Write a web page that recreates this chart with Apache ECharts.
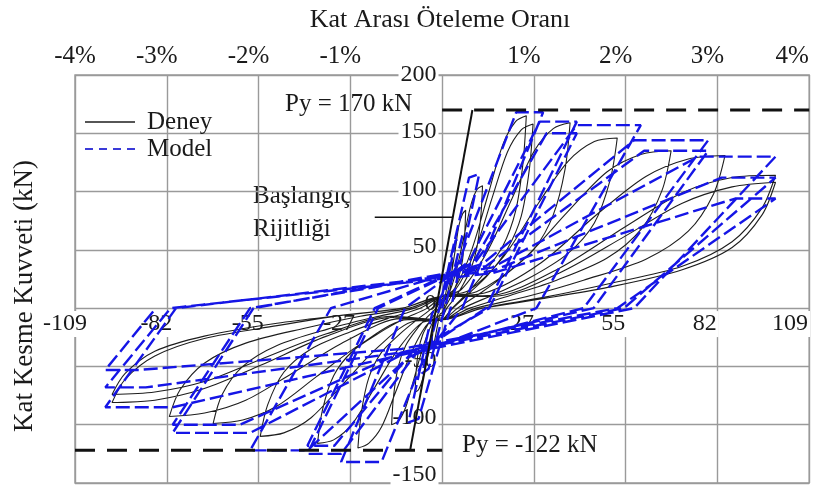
<!DOCTYPE html>
<html><head><meta charset="utf-8">
<script src="https://cdn.jsdelivr.net/npm/echarts@6/dist/echarts.min.js"></script>
<style>html,body{margin:0;padding:0;background:#fff}#c{width:832px;height:491px}</style>
</head><body><div id="c"></div>
<script>
// ---- tick labels ----
const xTickLabels = ['-109','-82','-55','-27','','27','55','82','109'];
const pctLabels = ['-4%','-3%','-2%','-1%','','1%','2%','3%','4%'];
// ---- Deney (experiment) cycles: [displacement mm, force kN] ----
const deneyC1 = [[0,0],[0.6,6],[1.3,16],[2.1,29],[2.6,37],[3,40],[2.9,30],[2.5,19],[1.8,10],[0.8,3],[0,-4],[-0.6,-5],[-1.3,-14],[-2.1,-26],[-2.6,-33],[-3,-35],[-2.9,-26],[-2.5,-16],[-1.8,-9],[-0.8,-2],[0,4]];
const deneyC2 = [[1.1,8],[2.5,25],[3.9,50],[5,71],[6.1,81],[7,84],[6.7,63],[6.1,42],[5,27],[3.5,15],[2.1,7],[0.8,0],[0,-6],[-1.2,-7],[-2.8,-22],[-4.4,-43],[-5.8,-61],[-7,-70],[-8,-72],[-7.7,-54],[-7,-36],[-5.8,-23],[-4,-13],[-2.4,-6],[-1,0],[0,6]];
const deneyC3 = [[1.8,11],[4.2,32],[6.6,63],[8.6,89],[10.4,102],[12,105],[11.5,79],[10.4,53],[8.6,34],[6,19],[3.6,8],[1.4,0],[0,-8],[-2.3,-10],[-5.3,-30],[-8.3,-60],[-10.8,-85],[-13,-97],[-15,-100],[-14.4,-75],[-13,-50],[-10.8,-32],[-7.5,-18],[-4.5,-8],[-1.8,0],[0,8]];
const deneyC4 = [[3.8,17],[8.8,50],[13.8,99],[18,140],[21.8,160],[25,165],[24,124],[21.8,83],[18,53],[12.5,30],[7.5,13],[3,0],[0,-10],[-3.8,-12],[-8.8,-36],[-13.8,-72],[-18,-102],[-21.8,-116],[-25,-120],[-24,-90],[-21.8,-60],[-18,-38],[-12.5,-22],[-7.5,-10],[-3,0],[0,10]];
const deneyC5 = [[4,16],[9.5,47],[14.9,95],[19.4,134],[23.5,153],[27,158],[25.9,119],[23.5,79],[19.4,51],[13.5,28],[8.1,13],[3.2,0],[0,-10],[-5.6,-12],[-13,-35],[-20.4,-70],[-26.6,-99],[-32.2,-113],[-37,-116],[-35.5,-87],[-32.2,-58],[-26.6,-37],[-18.5,-21],[-11.1,-9],[-4.4,0],[0,10]];
const deneyC6 = [[5.7,16],[13.3,48],[20.9,95],[27.4,135],[33,154],[38,159],[36.5,119],[33,80],[27.4,51],[19,29],[11.4,13],[4.6,0],[0,-10],[-8.1,-11],[-18.9,-33],[-29.7,-66],[-38.9,-94],[-47,-107],[-54,-110],[-51.8,-83],[-47,-55],[-38.9,-35],[-27,-20],[-16.2,-9],[-6.5,0],[0,10]];
const deneyC7 = [[7.8,15],[18.2,44],[28.6,90],[37.4,126],[45.2,143],[52,146],[49.9,110],[45.2,73],[37.4,47],[26,26],[15.6,12],[6.2,0],[0,-10],[-10.2,-10],[-23.8,-30],[-37.4,-59],[-49,-84],[-59.2,-96],[-68,-99],[-65.3,-74],[-59.2,-50],[-49,-32],[-34,-18],[-20.4,-8],[-8.2,0],[0,10]];
const deneyC8 = [[10.2,14],[23.8,41],[37.4,83],[49,117],[59.2,132],[68,135],[65.3,101],[59.2,68],[49,43],[34,24],[20.4,11],[8.2,0],[0,-10],[-12.2,-9],[-28.4,-28],[-44.6,-56],[-58.3,-79],[-70.5,-90],[-81,-93],[-77.8,-70],[-70.5,-47],[-58.3,-30],[-40.5,-17],[-24.3,-7],[-9.7,0],[0,10]];
const deneyC9 = [[12.6,13],[29.4,39],[46.2,81],[60.5,113],[73.1,128],[84,131],[80.6,98],[73.1,66],[60.5,42],[42,24],[25.2,10],[10.1,0],[0,-10],[-14.7,-8],[-34.3,-24],[-53.9,-49],[-70.6,-69],[-85.3,-79],[-98,-81],[-94.1,-61],[-85.3,-41],[-70.6,-26],[-49,-15],[-29.4,-6],[-11.8,0],[0,10]];
const deneyC10 = [[14.9,11],[34.7,34],[54.5,70],[71.3,99],[86.1,112],[99,114],[95,86],[86.1,57],[71.3,36],[49.5,21],[29.7,9],[11.9,0],[0,-10],[-14.7,-7],[-34.3,-22],[-53.9,-44],[-70.6,-63],[-85.3,-72],[-98,-74],[-94.1,-56],[-85.3,-37],[-70.6,-24],[-49,-13],[-29.4,-6],[-11.8,0],[0,10]];
const deneyC11 = [[14.9,10],[34.7,30],[54.5,62],[71.3,90],[86.1,104],[99,108],[95,80],[86.1,52],[71.3,33],[49.5,18],[29.7,8],[11.9,0]];
// ---- Model cycles (multi-linear) ----
const modelPath = [
 [0,0],[4,58],[6,62],[1,2],[-4,-52],[-6,-56],[-1,-2],
 [8,112],[11,115],[3,5],[-7,-95],[-10,-98],[-3,-5],
 [5,40],[22,168],[30,168],[6,0],[-5,-40],[-18,-132],[-30,-132],[-11,0],
 [8,40],[29,160],[40,160],[13,0],[-8,-40],[-30,-125],[-40,-125],[-19,0],
 [9,38],[31,150],[40,150],[14,0],[-9,-38],[-32,-118],[-40,-118],[-20,0],
 [10,40],[40,157],[59,157],[28,0],[-10,-42],[-40,-122],[-57,-122],[-33,0],
 [12,38],[57,144],[79,144],[42,0],[-12,-40],[-57,-107],[-80,-107],[-56,0],
 [13,36],[60,135],[79,135],[45,0],[-12,-38],[-60,-100],[-80,-100],[-57,0],
 [15,35],[76,130],[99,130],[57,0],[-12,-40],[-80,-85],[-100,-85],[-79,0],
 [15,32],[83,112],[99,112],[54,0],[-12,-38],[-88,-68],[-100,-68],[-80.6,0],
 [15,30],[87,94],[99,94],[52,0],[-12,-35],[-90,-53],[-100,-53],[-85,0]
];
// ---- reference lines ----
const pyPos = [[0,170],[109,170]];
const pyNeg = [[-109,-122],[0,-122]];
const stiffLine = [[-9.5,-122],[9,170]];
const pointerLine = [[-20,78],[3.2,78]];

const deneyData = [].concat(deneyC1,deneyC2,deneyC3,deneyC4,deneyC5,deneyC6,deneyC7,deneyC8,deneyC9,deneyC10,deneyC11);
const FF = '"Liberation Serif","DejaVu Serif",serif';
const GRID = '#9a9a9a';
const INK = '#1a1a1a';
const hidden = {show:false};

const chart = echarts.init(document.getElementById('c'), null, {renderer:'canvas'});
chart.setOption({
  animation:false,
  backgroundColor:'#fff',
  grid:[
    {left:75,right:4,top:75,bottom:8,show:true,borderColor:GRID,borderWidth:1.4,backgroundColor:'transparent'},
    {left:75,right:4,top:75,bottom:182.9,show:false},
    {left:451.5,right:4,top:75,bottom:8,show:false}
  ],
  graphic:[
    {type:'text',x:440,y:20,style:{text:'Kat Arası Öteleme Oranı',font:'26px '+FF,fill:INK,align:'center',verticalAlign:'middle'}},
    {type:'text',x:25,y:296,rotation:Math.PI/2,style:{text:'Kat Kesme Kuvveti (kN)',font:'27px '+FF,fill:INK,align:'center',verticalAlign:'middle'}},
    {type:'text',x:285,y:104,style:{text:'Py = 170 kN',font:'25px '+FF,fill:INK,align:'left',verticalAlign:'middle'}},
    {type:'text',x:462,y:445,style:{text:'Py = -122 kN',font:'25px '+FF,fill:INK,align:'left',verticalAlign:'middle'}},
    {type:'text',x:253,y:196,style:{text:'Başlangıç',font:'25px '+FF,fill:INK,align:'left',verticalAlign:'middle'}},
    {type:'text',x:253,y:229,style:{text:'Rijitliği',font:'25px '+FF,fill:INK,align:'left',verticalAlign:'middle'}},
    // legend
    {type:'line',shape:{x1:85,y1:122,x2:135,y2:122},style:{stroke:'#1e1e1e',lineWidth:1.6},z:10},
    {type:'text',x:147,y:122,style:{text:'Deney',font:'25px '+FF,fill:INK,align:'left',verticalAlign:'middle'},z:10},
    {type:'line',shape:{x1:85,y1:149,x2:135,y2:149},style:{stroke:'#3a3ad8',lineWidth:2,lineDash:[8,6]},z:10},
    {type:'text',x:147,y:149,style:{text:'Model',font:'25px '+FF,fill:INK,align:'left',verticalAlign:'middle'},z:10}
  ],
  xAxis:[
    {gridIndex:0,type:'value',min:-109,max:109,interval:27.25,
     axisLine:hidden,axisTick:hidden,axisLabel:hidden,
     splitLine:{show:true,lineStyle:{color:GRID,width:1.4}}},
    {gridIndex:0,type:'value',min:-4,max:4,interval:1,position:'top',
     axisLine:hidden,axisTick:hidden,splitLine:hidden,
     axisLabel:{show:true,margin:6,fontFamily:FF,fontSize:25,color:INK,showMinLabel:true,showMaxLabel:true,
       formatter:function(v,i){const t=pctLabels[i]; if(!t) return ''; if(i===0) return '{t|'+t+'}'; return '{t|'+t+'}'+(i===8?'{w|\u00a0}':'{s|\u00a0}');},
       rich:{t:{fontFamily:FF,fontSize:25,color:INK},s:{width:20,fontSize:25},w:{width:34,fontSize:25}}}},
    {gridIndex:1,type:'value',min:-109,max:109,interval:27.25,position:'bottom',z:1,
     axisLine:hidden,axisTick:hidden,splitLine:hidden,
     axisLabel:{show:true,margin:3,fontFamily:FF,fontSize:24,color:INK,showMinLabel:true,showMaxLabel:true,
       formatter:function(v,i){const t=xTickLabels[i]; if(!t) return ''; return '{t|'+t+'}'+(i===8?'{w|\u00a0}':'{s|\u00a0}');},
       rich:{t:{fontFamily:FF,fontSize:24,color:INK,backgroundColor:'#fff',padding:[1,2,1,2]},
             s:{width:20,fontSize:24},w:{width:32,fontSize:24}}}},
    {gridIndex:2,type:'value',min:0,max:1,show:false}
  ],
  yAxis:[
    {gridIndex:0,type:'value',min:-150,max:200,interval:50,
     axisLine:hidden,axisTick:hidden,axisLabel:hidden,
     splitLine:{show:true,lineStyle:{color:GRID,width:1.4}}},
    {gridIndex:1,type:'value',min:0,max:1,show:false},
    {gridIndex:2,type:'value',min:-150,max:200,interval:50,position:'left',z:1,
     axisLine:hidden,axisTick:hidden,splitLine:hidden,
     axisLabel:{show:true,margin:13,fontFamily:FF,fontSize:24,color:INK,backgroundColor:'#fff',padding:[0,2,8,2],showMinLabel:true,showMaxLabel:true}}
  ],
  series:[
    {name:'Deney',type:'line',xAxisIndex:0,yAxisIndex:0,data:deneyData,symbol:'none',smooth:0.3,z:3,
     lineStyle:{color:'#1e1e1e',width:1.1}},
    {name:'Model',type:'line',xAxisIndex:0,yAxisIndex:0,data:modelPath,symbol:'none',z:4,
     lineStyle:{color:'#1515e6',width:2.4,type:[14,5]}},
    {name:'PyPos',type:'line',xAxisIndex:0,yAxisIndex:0,data:pyPos,symbol:'none',z:5,lineStyle:{color:'#111',width:3,type:[20,12]}},
    {name:'PyNeg',type:'line',xAxisIndex:0,yAxisIndex:0,data:pyNeg,symbol:'none',z:5,lineStyle:{color:'#111',width:3,type:[20,12]}},
    {name:'Stiff',type:'line',xAxisIndex:0,yAxisIndex:0,data:stiffLine,symbol:'none',z:5,lineStyle:{color:'#111',width:2}},
    {name:'Pointer',type:'line',xAxisIndex:0,yAxisIndex:0,data:pointerLine,symbol:'none',z:5,lineStyle:{color:'#111',width:1.5}}
  ]
});
</script></body></html>
